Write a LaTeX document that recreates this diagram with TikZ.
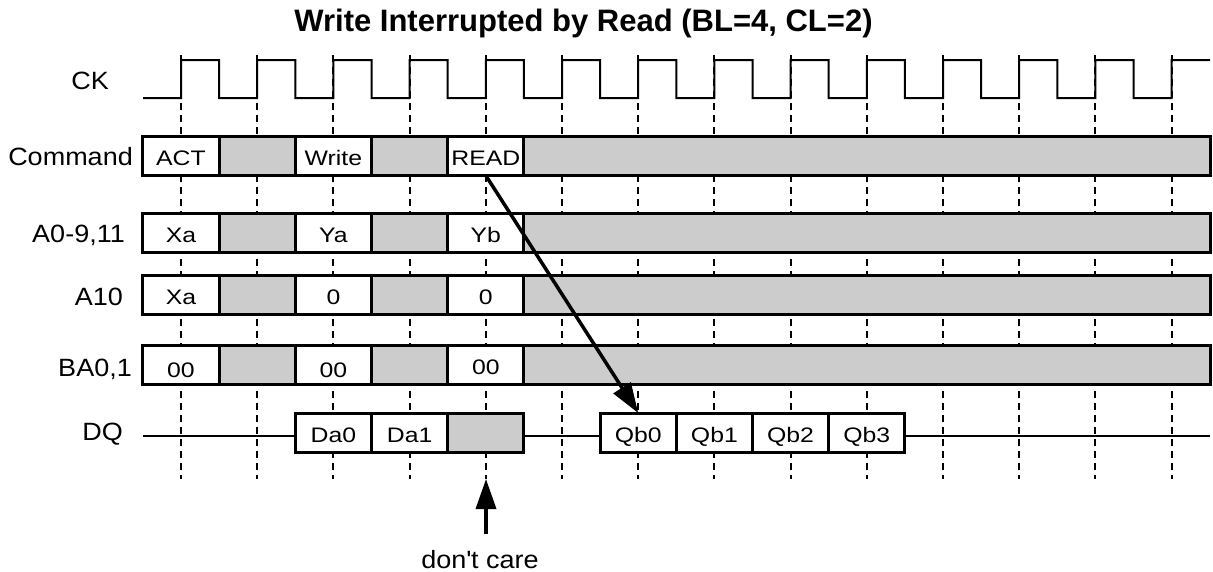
\documentclass[tikz,border=0pt]{standalone}
\usepackage{fontspec}
\setmainfont{Liberation Sans}
\newfontfamily\cellfont[FakeStretch=1.18]{Liberation Sans}
\newfontfamily\labelfont[FakeStretch=1.08]{Liberation Sans}
\usetikzlibrary{arrows.meta}
\definecolor{dcgray}{gray}{0.8}
\tikzset{
    cell/.style={draw,line width=3pt,minimum width=76.2pt,minimum height=39pt,inner sep=0pt,outer sep=0pt,text height=19pt,text depth=0pt,font=\cellfont\fontsize{21}{25}\selectfont},
    siglabel/.style={anchor=base east,inner sep=0pt,font=\labelfont\fontsize{25}{30}\selectfont},
    guide/.style={line width=2pt,dash pattern=on 7pt off 5pt},
    wave/.style={line width=2pt},
    pointer/.style={line width=3.5pt,-{Triangle[length=30pt,width=20pt]}}
}
\begin{document}
\begin{tikzpicture}[x=1pt,y=-1pt]
\useasboundingbox (0,0) rectangle (1213,571);
\node[anchor=base,font=\bfseries\fontsize{31}{36}\selectfont] (title) at (583.5,31) {Write Interrupted by Read (BL=4, CL=2)};
\foreach \k in {0,...,13} {
    \draw[guide] ({181+76.2*\k},55) -- ({181+76.2*\k},479);
}
\draw[wave] (143,98) -- (181,98)
    \foreach \k in {0,...,12} { -- ({181+76.2*\k},60) -- ({219.1+76.2*\k},60) -- ({219.1+76.2*\k},98) -- ({257.2+76.2*\k},98) }
    -- (1171.6,60) -- (1210,60);
\draw[wave,line width=2.3pt] (143,436) -- (1210,436);
\node[siglabel] (ck) at (109,89) {CK};
\node[siglabel] (command) at (133,165) {Command};
\node[siglabel] (addr) at (125,242) {A0-9,11};
\node[siglabel] (a10) at (123,305) {A10};
\node[siglabel] (bank) at (132,376) {BA0,1};
\node[siglabel] (dq) at (123,440) {DQ};
\foreach \k/\txt/\fc in {0/ACT/white,1//dcgray,2/Write/white,3//dcgray,4/READ/white} {
    \node[cell,fill=\fc] (cmd\k) at ({181+76.2*\k},156) {\txt};
}
\node[cell,fill=dcgray,minimum width=686.2pt] (cmdrest) at (866.9,156) {};
\foreach \k/\txt/\fc in {0/Xa/white,1//dcgray,2/Ya/white,3//dcgray,4/Yb/white} {
    \node[cell,fill=\fc] (addr\k) at ({181+76.2*\k},232.5) {\txt};
}
\node[cell,fill=dcgray,minimum width=686.2pt] (addrrest) at (866.9,232.5) {};
\foreach \k/\txt/\fc in {0/Xa/white,1//dcgray,2/0/white,3//dcgray,4/0/white} {
    \node[cell,fill=\fc] (aten\k) at ({181+76.2*\k},295) {\txt};
}
\node[cell,fill=dcgray,minimum width=686.2pt] (atenrest) at (866.9,295) {};
\foreach \k/\txt/\fc/\th in {0/00/white/26pt,1//dcgray/19pt,2/00/white/26pt,3//dcgray/19pt,4/00/white/20pt} {
    \node[cell,fill=\fc,text height=\th] (bank\k) at ({181+76.2*\k},364.5) {\txt};
}
\node[cell,fill=dcgray,minimum width=686.2pt] (bankrest) at (866.9,364.5) {};
\node[cell,fill=white] (da0) at (333.4,432.5) {Da0};
\node[cell,fill=white] (da1) at (409.6,432.5) {Da1};
\node[cell,fill=dcgray] (dax) at (485.8,432.5) {};
\foreach \k in {0,...,3} {
    \node[cell,fill=white] (qb\k) at ({638.2+76.2*\k},432.5) {Qb\k};
}
\draw[pointer] (cmd4.south) -- (qb0.north);
\coordinate (dctip) at (486,479);
\node[anchor=base,font=\labelfont\fontsize{25}{30}\selectfont] (dc) at (480,568) {don\textquotesingle t care};
\draw[pointer,shorten <=12pt] (dctip |- dc.north) -- (dctip);
\end{tikzpicture}
\end{document}
